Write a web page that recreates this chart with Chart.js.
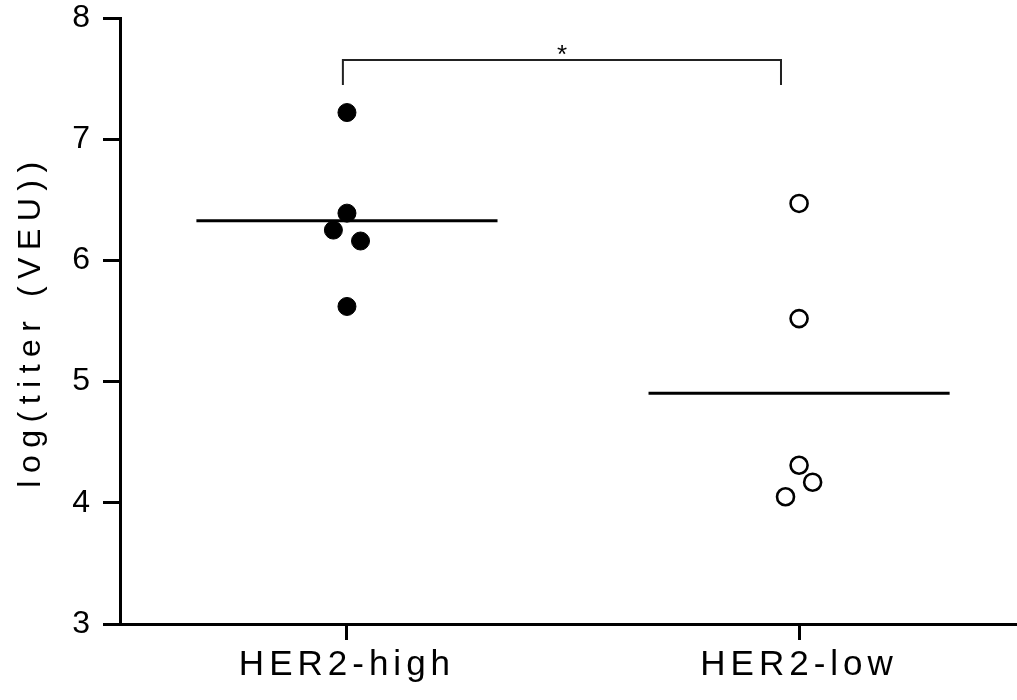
<!DOCTYPE html>
<html>
<head>
<meta charset="utf-8">
<script src="https://cdn.jsdelivr.net/npm/chart.js@4/dist/chart.umd.min.js"></script>
<style>
  html, body { margin: 0; padding: 0; background: #fff; overflow: hidden; }
  #wrap { width: 1017px; height: 700px; }
  canvas { display: block; }
</style>
</head>
<body>
<div id="wrap"><canvas id="c" width="1017" height="700"></canvas></div>
<script>
// Groups and their positions on the x axis
const categories = ['HER2-high', 'HER2-low'];
const categoryPositions = [1, 2];

// log(titer) per subject, with the small horizontal offsets used to separate overlapping dots
const highValues = [7.22, 6.39, 6.25, 6.16, 5.62];
const highX      = [1.00, 1.00, 0.97, 1.03, 1.00];
const lowValues  = [6.47, 5.52, 4.31, 4.17, 4.05];
const lowX       = [2.00, 2.00, 2.00, 2.03, 1.97];

// Y axis ticks
const yTicks = [3, 4, 5, 6, 7, 8];

// Significance bracket between the groups
const bracketX = [0.991, 1.960];
const bracketY = [7.447, 7.653];
const sigLabel = '*';

const meanHalfWidth = 0.333;
const mean = a => a.reduce((s, v) => s + v, 0) / a.length;

const highPts = highValues.map((v, i) => ({ x: highX[i], y: v }));
const lowPts = lowValues.map((v, i) => ({ x: lowX[i], y: v }));
const highMean = mean(highValues);
const lowMean = mean(lowValues);

const FONT = "'Liberation Sans', Arial, sans-serif";

// Wrap a scale draw method so it renders with extra letter spacing
function spaced(fn, sp) {
  return function (...args) {
    const c = this.ctx;
    const old = c.letterSpacing;
    c.letterSpacing = sp;
    fn.apply(this, args);
    c.letterSpacing = old;
  };
}

const spacingPlugin = {
  id: 'spacing',
  beforeDraw(chart) {
    const x = chart.scales.x, y = chart.scales.y;
    if (x && !x._spaced) { x.drawLabels = spaced(x.drawLabels, '5px'); x._spaced = true; }
    if (y && !y._spaced) { y.drawTitle = spaced(y.drawTitle, '7.5px'); y._spaced = true; }
  }
};

const bgPlugin = {
  id: 'bg',
  beforeDraw(chart) {
    const c = chart.ctx;
    c.save();
    c.fillStyle = '#fff';
    c.fillRect(0, 0, chart.width, chart.height);
    c.restore();
  }
};

// Asterisk above the middle of the bracket
const sigPlugin = {
  id: 'sig',
  afterDatasetsDraw(chart) {
    const c = chart.ctx;
    const xs = chart.scales.x, ys = chart.scales.y;
    const px = xs.getPixelForValue((bracketX[0] + bracketX[1]) / 2);
    const py = ys.getPixelForValue(bracketY[1]);
    c.save();
    c.fillStyle = '#000';
    c.font = '26px ' + FONT;
    c.textAlign = 'center';
    c.textBaseline = 'alphabetic';
    c.fillText(sigLabel, px, py + 3);
    c.restore();
  }
};

new Chart(document.getElementById('c'), {
  type: 'scatter',
  data: {
    datasets: [
      {
        label: categories[0],
        data: highPts,
        pointStyle: 'circle',
        pointRadius: 9,
        pointBackgroundColor: '#000',
        pointBorderColor: '#000',
        pointBorderWidth: 1,
        order: 0
      },
      {
        label: categories[1],
        data: lowPts,
        pointStyle: 'circle',
        pointRadius: 8.5,
        pointBackgroundColor: '#fff',
        pointBorderColor: '#000',
        pointBorderWidth: 2.6,
        order: 0
      },
      {
        type: 'line',
        label: 'mean high',
        data: [{ x: categoryPositions[0] - meanHalfWidth, y: highMean }, { x: categoryPositions[0] + meanHalfWidth, y: highMean }],
        borderColor: '#000',
        borderWidth: 3,
        pointRadius: 0,
        order: 1
      },
      {
        type: 'line',
        label: 'mean low',
        data: [{ x: categoryPositions[1] - meanHalfWidth, y: lowMean }, { x: categoryPositions[1] + meanHalfWidth, y: lowMean }],
        borderColor: '#000',
        borderWidth: 3,
        pointRadius: 0,
        order: 1
      },
      {
        type: 'line',
        label: 'bracket',
        data: [
          { x: bracketX[0], y: bracketY[0] },
          { x: bracketX[0], y: bracketY[1] },
          { x: bracketX[1], y: bracketY[1] },
          { x: bracketX[1], y: bracketY[0] }
        ],
        borderColor: '#222',
        borderWidth: 2,
        pointRadius: 0,
        tension: 0,
        order: 2
      }
    ]
  },
  options: {
    responsive: false,
    animation: false,
    events: [],
    layout: { autoPadding: false, padding: { top: 18, right: 0, left: 0, bottom: 0 } },
    plugins: {
      legend: { display: false },
      tooltip: { enabled: false }
    },
    scales: {
      x: {
        type: 'linear',
        min: 0.498,
        max: 2.482,
        afterBuildTicks: s => { s.ticks = categoryPositions.map(v => ({ value: v })); },
        afterFit: s => { s.height = 76; s.paddingLeft = 0; s.paddingRight = 0; },
        border: { display: true, color: '#000', width: 3 },
        grid: { display: true, drawOnChartArea: false, drawTicks: true, tickLength: 16, tickWidth: 3, tickColor: '#000' },
        ticks: {
          color: '#000',
          font: { family: FONT, size: 35 },
          padding: 4,
          maxRotation: 0,
          callback: v => categories[categoryPositions.indexOf(v)] || ''
        }
      },
      y: {
        type: 'linear',
        min: 3,
        max: 8,
        afterBuildTicks: s => { s.ticks = yTicks.map(v => ({ value: v })); },
        afterFit: s => { s.width = 120; s.paddingTop = 0; s.paddingBottom = 0; },
        border: { display: true, color: '#000', width: 3 },
        grid: { display: true, drawOnChartArea: false, drawTicks: true, tickLength: 17, tickWidth: 3, tickColor: '#000' },
        ticks: {
          color: '#000',
          font: { family: FONT, size: 32 },
          padding: 13
        },
        title: {
          display: true,
          text: 'log(titer (VEU))',
          color: '#000',
          font: { family: FONT, size: 32 },
          padding: { top: 12, bottom: 0 }
        }
      }
    }
  },
  plugins: [bgPlugin, spacingPlugin, sigPlugin]
});
</script>
</body>
</html>
